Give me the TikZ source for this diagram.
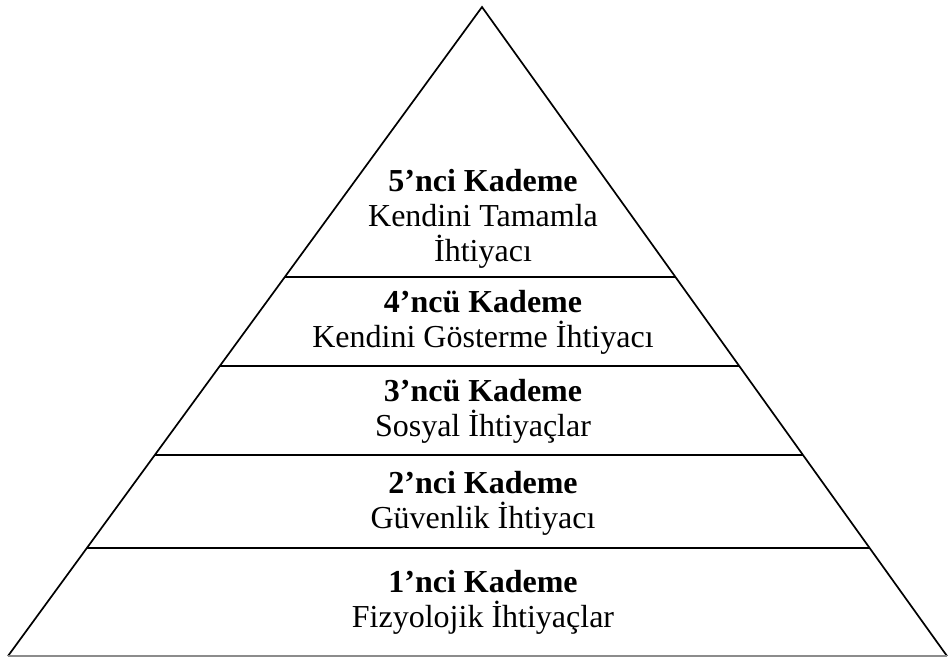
\documentclass[tikz,border=0pt]{standalone}
\usepackage{fontspec}
\setmainfont{Liberation Serif}
\begin{document}
\begin{tikzpicture}[x=1pt,y=-1pt,
  edge/.style={line width=1.7pt,black},
  tierline/.style={line width=1.7pt,black},
  baseline/.style={line width=1.7pt,black!45},
  tier/.style={align=center,font=\fontsize{32}{35}\selectfont,inner sep=0pt}]
\useasboundingbox (0,0) rectangle (948,657);
% pyramid outline
\coordinate (apex) at (482,7);
\coordinate (bl) at (8,656);
\coordinate (br) at (947,656);
\draw[edge,line join=miter] (bl) -- (apex) -- (br);
\draw[baseline] (bl) -- (br);
% tier separators (end points on the two sides)
\foreach \y/\n in {277/a,366/b,455/c,548/d}{
  \path (bl) -- (apex) coordinate[pos={(656-\y)/649}] (l\n);
  \path (br) -- (apex) coordinate[pos={(656-\y)/649}] (r\n);
  \draw[tierline] (l\n) -- (r\n);
}
% tier labels
\node[tier] (t5) at (483,219) {\textbf{5’nci Kademe}\\Kendini Tamamla\\İhtiyacı};
\node[tier] (t4) at (483,322) {\textbf{4’ncü Kademe}\\Kendini Gösterme İhtiyacı};
\node[tier] (t3) at (483,411) {\textbf{3’ncü Kademe}\\Sosyal İhtiyaçlar};
\node[tier] (t2) at (483,503) {\textbf{2’nci Kademe}\\Güvenlik İhtiyacı};
\node[tier] (t1) at (483,602) {\textbf{1’nci Kademe}\\Fizyolojik İhtiyaçlar};
\end{tikzpicture}
\end{document}
